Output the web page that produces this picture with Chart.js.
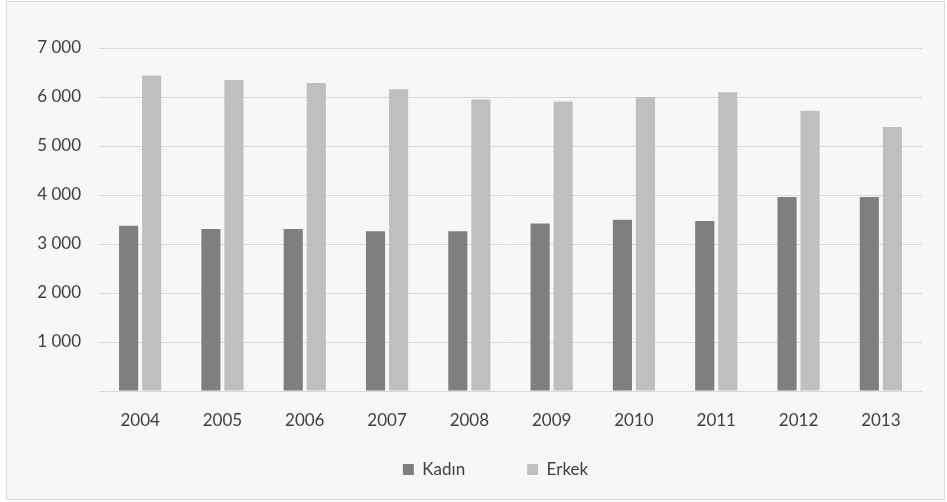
<!DOCTYPE html>
<html>
<head>
<meta charset="utf-8">
<script src="https://cdn.jsdelivr.net/npm/chart.js@4"></script>
<style>
    html, body { margin: 0; padding: 0; background: #ffffff; }
    #box {
        position: absolute;
        left: 6px;
        top: 1px;
        width: 939px;
        height: 499px;
        box-sizing: border-box;
        border: 1px solid #d9d9d9;
        background: #f7f7f7;
    }
</style>
</head>
<body>
<div id="box"><canvas id="chart"></canvas></div>
<script>
// Values
const years = ['2004', '2005', '2006', '2007', '2008', '2009', '2010', '2011', '2012', '2013'];
const kadin = [3375, 3305, 3305, 3260, 3260, 3420, 3495, 3470, 3960, 3960];
const erkek = [6440, 6345, 6285, 6160, 5950, 5910, 6000, 6095, 5720, 5390];

const textColor = '#404040';
const gridColor = '#d9d9d9';

// "7 000" style thousands, no label at zero
function fmt(v) {
    if (v === 0) return '';
    return String(v).replace(/\B(?=(\d{3})+(?!\d))/g, ' ');
}

// legend sits a bit right of centre and needs wide gaps between items
const legendNudge = {
    id: 'legendNudge',
    afterInit(chart) {
        const lg = chart.legend;
        const fit = lg.fit;
        lg.fit = function () {
            fit.call(this);
            this.height = 63;
        };
    },
    afterLayout(chart) {
        const lg = chart.legend;
        lg.left += 31;
        lg.right += 31;
        lg.top -= 37;
        lg.height += 37;
    }
};

document.addEventListener('DOMContentLoaded', function () {
    const ctx = document.getElementById('chart').getContext('2d');

    new Chart(ctx, {
        type: 'bar',
        data: {
            labels: years,
            datasets: [
                {
                    label: 'Kadın',
                    data: kadin,
                    backgroundColor: '#7f7f7f',
                    categoryPercentage: 0.56,
                    barPercentage: 0.83
                },
                {
                    label: 'Erkek',
                    data: erkek,
                    backgroundColor: '#bfbfbf',
                    categoryPercentage: 0.56,
                    barPercentage: 0.83
                }
            ]
        },
        options: {
            responsive: true,
            maintainAspectRatio: false,
            animation: false,
            layout: {
                padding: { top: 46, right: 22, left: 0, bottom: 0 }
            },
            scales: {
                x: {
                    grid: { display: false },
                    border: { display: false },
                    ticks: {
                        color: textColor,
                        padding: 11,
                        font: { family: 'Lato', size: 17 }
                    },
                    afterFit: function (scale) { scale.height = 45; }
                },
                y: {
                    min: 0,
                    max: 7000,
                    grid: { color: gridColor, lineWidth: 1, drawTicks: false },
                    border: { display: false },
                    ticks: {
                        stepSize: 1000,
                        color: textColor,
                        padding: 18,
                        font: { family: 'Lato', size: 17 },
                        callback: fmt
                    },
                    afterFit: function (scale) { scale.width = 92; }
                }
            },
            plugins: {
                legend: {
                    position: 'bottom',
                    labels: {
                        boxWidth: 11,
                        boxHeight: 11,
                        padding: 62,
                        color: textColor,
                        font: { family: 'Lato', size: 17 }
                    }
                },
                tooltip: { enabled: false }
            }
        },
        plugins: [legendNudge]
    });
});
</script>
</body>
</html>
